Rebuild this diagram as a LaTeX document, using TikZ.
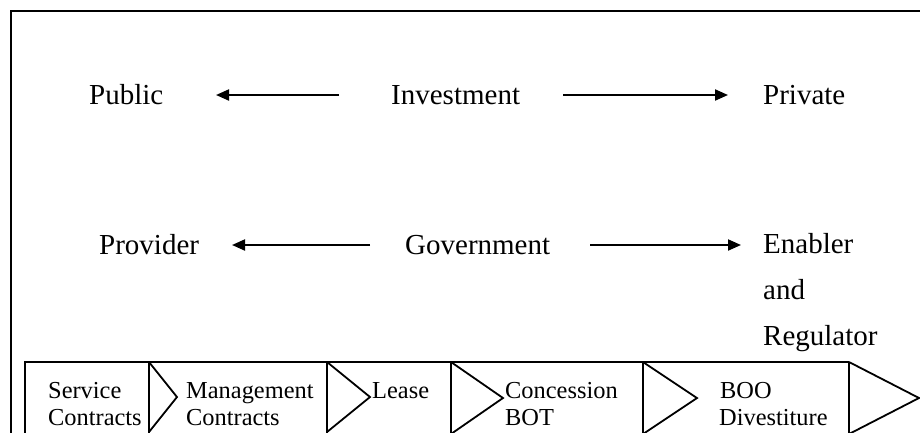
\documentclass[tikz,border=0pt]{standalone}
\usepackage{fontspec}
\setmainfont{Liberation Serif}
\usetikzlibrary{arrows.meta}
\begin{document}
\begin{tikzpicture}[x=1pt,y=-1pt,
  big/.style={font=\fontsize{29}{34}\selectfont, inner sep=0pt, anchor=base west},
  small/.style={font=\fontsize{24.4}{27}\selectfont, inner sep=0pt, anchor=base west},
  arr/.style={line width=2pt, -{Triangle[length=13pt,width=11pt]}},
  frameline/.style={line width=2pt},
  bandline/.style={line width=1.8pt, line join=miter}]
\useasboundingbox (0,0) rectangle (920,432);
\begin{scope}
\clip (0,0) rectangle (920,432);
\draw[frameline] (11,445) -- (11,11) -- (930,11);
% upper row
\node[big] (pub) at (89,104) {Public};
\node[big] (inv) at (391,104) {Investment};
\node[big] (pri) at (763,104) {Private};
\coordinate (invL) at (339,95);
\coordinate (pubR) at (216,95);
\coordinate (invR) at (563,95);
\coordinate (priL) at (728,95);
\draw[arr] (invL) -- (pubR);
\draw[arr] (invR) -- (priL);
% lower row
\node[big] (prov) at (99,254) {Provider};
\node[big] (gov) at (405,254) {Government};
\node[big] (en) at (763,253) {Enabler};
\node[big] (and) at (763,299) {and};
\node[big] (reg) at (763,345) {Regulator};
\coordinate (govL) at (370,245);
\coordinate (provR) at (232,245);
\coordinate (govR) at (590,245);
\coordinate (enL) at (741,245);
\draw[arr] (govL) -- (provR);
\draw[arr] (govR) -- (enL);
% band
\draw[bandline] (25,445) -- (25,362) -- (849,362);
\foreach \xx in {149,327,451,643,849} {\draw[bandline] (\xx,362) -- (\xx,445);}
\draw[bandline] (149,362) -- (177,397) -- (149,432);
\draw[bandline] (327,362) -- (370,397) -- (327,432);
\draw[bandline] (451,362) -- (503,398) -- (451,434);
\draw[bandline] (643,362) -- (697,398) -- (643,434);
\draw[bandline] (849,362) -- (919,398) -- (849,434);
\node[small] (sc1) at (48,398) {Service};
\node[small] (sc2) at (48,425) {Contracts};
\node[small] (mc1) at (186,398) {Management};
\node[small] (mc2) at (186,425) {Contracts};
\node[small] (ls) at (372,398) {Lease};
\node[small] (cb1) at (505,398) {Concession};
\node[small] (cb2) at (505,425) {BOT};
\node[small] (bd1) at (720,398) {BOO};
\node[small] (bd2) at (719,425) {Divestiture};
\end{scope}
\end{tikzpicture}
\end{document}
